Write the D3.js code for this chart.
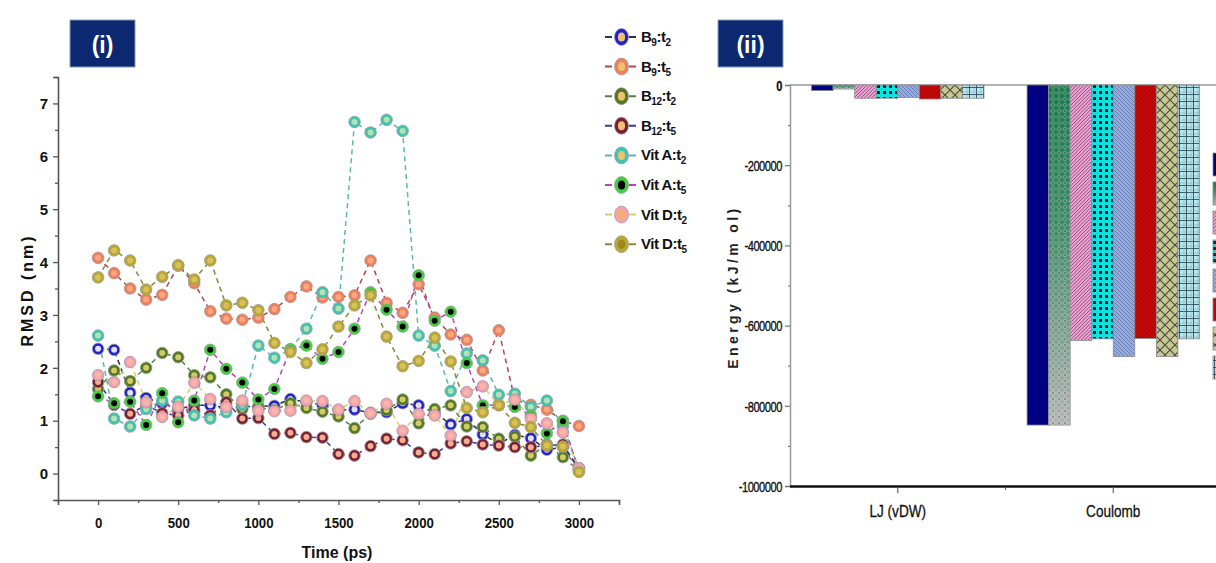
<!DOCTYPE html>
<html>
<head>
<meta charset="utf-8">
<script src="https://cdn.jsdelivr.net/npm/d3@7/dist/d3.min.js"></script>
<style>
  body { margin: 0; background: #fff; }
  svg { display: block; font-family: "Liberation Sans", Arial, sans-serif; }
</style>
</head>
<body>
<svg width="1216" height="563"></svg>
<script>
// ---- panel (i) data: RMSD (nm) vs time (ps)
const times = [0, 100, 200, 300, 400, 500, 600, 700, 800, 900, 1000, 1100, 1200, 1300, 1400, 1500,
  1600, 1700, 1800, 1900, 2000, 2100, 2200, 2300, 2400, 2500, 2600, 2700, 2800, 2900, 3000];
const b9t2 = [2.36, 2.34, 1.53, 1.43, 1.33, 1.22, 1.29, 1.29, 1.25, 1.27, 1.27, 1.28, 1.41, 1.35, 1.30, 1.20,
  1.21, 1.15, 1.16, 1.33, 1.29, 1.15, 0.93, 1.03, 0.74, 0.56, 0.73, 0.67, 0.45, 0.50, 0.10];
const b9t5 = [4.08, 3.79, 3.50, 3.29, 3.38, 3.93, 3.60, 3.07, 2.93, 2.91, 2.95, 3.11, 3.34, 3.54, 3.33, 3.34,
  3.37, 4.03, 3.23, 3.04, 3.58, 2.95, 2.63, 2.53, 1.95, 2.71, 1.40, 1.30, 1.21, 1.00, 0.90];
const b12t2 = [1.60, 1.95, 1.75, 2.00, 2.28, 2.20, 1.86, 1.82, 1.50, 1.22, 1.25, 1.20, 1.33, 1.24, 1.17, 1.08,
  0.86, 1.13, 1.20, 1.40, 0.95, 1.22, 1.29, 0.89, 0.88, 0.66, 0.70, 0.34, 0.55, 0.31, 0.05];
const b12t5 = [1.73, 1.30, 1.13, 1.30, 1.14, 1.10, 1.20, 1.10, 1.35, 1.04, 1.05, 0.75, 0.77, 0.69, 0.68, 0.37,
  0.34, 0.52, 0.66, 0.63, 0.40, 0.37, 0.57, 0.61, 0.55, 0.53, 0.50, 0.50, 0.53, 0.55, 0.10];
const vitAt2 = [2.61, 1.04, 0.89, 1.22, 1.38, 1.36, 1.10, 1.04, 1.16, 1.30, 2.42, 2.19, 2.35, 2.74, 3.43, 3.12,
  6.65, 6.45, 6.69, 6.48, 2.61, 2.42, 1.56, 2.27, 2.14, 1.49, 1.51, 1.26, 1.38, 0.90, 0.09];
const vitAt5 = [1.46, 1.33, 1.36, 0.92, 1.52, 0.97, 1.38, 2.34, 1.98, 1.72, 1.40, 1.60, 2.35, 2.42, 2.17, 2.30,
  2.74, 3.43, 3.10, 2.78, 3.75, 2.89, 3.06, 2.09, 1.29, 1.30, 1.26, 1.10, 0.76, 0.99, 0.05];
const vitDt2 = [1.86, 1.73, 2.11, 1.35, 1.07, 1.26, 1.72, 1.41, 1.26, 1.38, 1.19, 1.18, 1.19, 1.38, 1.37, 1.21,
  1.37, 1.14, 1.32, 0.81, 1.13, 1.10, 0.72, 1.54, 1.65, 1.30, 1.40, 1.04, 0.95, 0.78, 0.10];
const vitDt5 = [3.71, 4.22, 4.03, 3.48, 3.72, 3.94, 3.67, 4.03, 3.18, 3.23, 3.09, 2.47, 2.30, 2.09, 2.35, 2.78,
  3.18, 3.37, 2.59, 2.03, 2.13, 2.57, 2.12, 1.24, 1.16, 1.29, 0.96, 0.88, 0.53, 0.51, 0.03];

// legend labels: [base, sub1, mid, sub2]
const seriesLabels = [
  ['B', '9', ':t', '2'], ['B', '9', ':t', '5'], ['B', '12', ':t', '2'], ['B', '12', ':t', '5'],
  ['Vit A', '', ':t', '2'], ['Vit A', '', ':t', '5'], ['Vit D', '', ':t', '2'], ['Vit D', '', ':t', '5']
];
const seriesValues = [b9t2, b9t5, b12t2, b12t5, vitAt2, vitAt5, vitDt2, vitDt5];
const lineColors = ['#303040', '#b04848', '#5e7e48', '#3838a8', '#5cb8a8', '#b048b8', '#d0d070', '#88883a'];
const ringColors = ['#2222cc', '#f07e5e', '#4e7a22', '#7a1e34', '#3cc4b4', '#3ed03e', '#f4a0b0', '#b8a830'];
const coreColors = ['#e4e0f4', '#f8a880', '#d8c868', '#f0b090', '#b8e0b0', '#000000', '#f8b8a8', '#d8c060'];
const legendCore = ['#f0c070', '#f0c070', '#f0c070', '#f0c070', '#f0c070', '#000000', '#f0b070', '#9a8a20'];

// ---- panel (ii) data: energy (kJ/mol)
const energyCats = ['LJ (vDW)', 'Coulomb'];
const energyLJ = [-14000, -10000, -33000, -33000, -31000, -35000, -33000, -33000];
const energyCoul = [-848000, -848000, -637000, -633000, -677000, -632000, -677000, -633000];
const barFills = ['url(#p0)', 'url(#g1)', 'url(#p2)', 'url(#p3)', 'url(#p4)', 'url(#p5)', 'url(#p6)', 'url(#p7)'];
const energyTicks = [0, -200000, -400000, -600000, -800000, -1000000];

const svg = d3.select('svg');
const defs = svg.append('defs');

// ---------- patterns for the bars
const pat = (id, w, h, bg) => {
  const p = defs.append('pattern').attr('id', id).attr('patternUnits', 'userSpaceOnUse')
    .attr('width', w).attr('height', h);
  p.append('rect').attr('width', w).attr('height', h).attr('fill', bg);
  return p;
};
pat('p0', 4, 4, '#000080');
// green checker fading to gray
const grad = defs.append('linearGradient').attr('id', 'g1').attr('x1', 0).attr('y1', 0).attr('x2', 0).attr('y2', 1);
grad.append('stop').attr('offset', '0%').attr('stop-color', '#1a7a4e');
grad.append('stop').attr('offset', '40%').attr('stop-color', '#3d8a66');
grad.append('stop').attr('offset', '100%').attr('stop-color', '#b4b4b4');
const chk = defs.append('pattern').attr('id', 'chk').attr('patternUnits', 'userSpaceOnUse')
  .attr('width', 6).attr('height', 6);
chk.append('path').attr('d', 'M0,3 L3,0 L6,3 L3,6 Z').attr('fill', '#ffffff').attr('opacity', 0.22);
chk.append('circle').attr('cx', 3).attr('cy', 3).attr('r', 1).attr('fill', '#203a30').attr('opacity', 0.45);
let p2 = pat('p2', 7, 7, '#f0a0d4');
p2.append('path').attr('d', 'M-1,8 L8,-1 M-1,4.5 L4.5,-1 M2.5,8 L8,2.5').attr('stroke', '#8a5a7a').attr('stroke-width', 1);
let p3 = pat('p3', 6, 6, '#10e0e0');
p3.append('rect').attr('x', 1).attr('y', 1).attr('width', 3).attr('height', 3).attr('fill', '#0a2020');
let p4 = pat('p4', 4, 4, '#94acdc');
p4.append('path').attr('d', 'M-1,-1 L5,5 M-1,3 L1,5 M3,-1 L5,1').attr('stroke', '#5a6aa8').attr('stroke-width', 0.7);
let p5 = pat('p5', 5, 5, '#c00808');
p5.append('path').attr('d', 'M-1,6 L6,-1').attr('stroke', '#a80000').attr('stroke-width', 0.8);
let p6 = pat('p6', 10, 10, '#c8c894');
p6.append('path').attr('d', 'M0,0 L10,10 M10,0 L0,10').attr('stroke', '#4a4a3a').attr('stroke-width', 1.1);
let p7 = pat('p7', 7, 7, '#b8e8f0');
p7.append('path').attr('d', 'M0,3.5 H7 M3.5,0 V7').attr('stroke', '#2a4a5a').attr('stroke-width', 0.9);
p7.append('path').attr('d', 'M0,1 H7 M1,0 V7').attr('stroke', '#7aa0aa').attr('stroke-width', 0.5);

// ---------- panel labels
const panelTag = (x, txt) => {
  svg.append('rect').attr('x', x).attr('y', 20).attr('width', 65).attr('height', 47)
    .attr('fill', '#0b2870').attr('stroke', '#8a9ac0').attr('stroke-width', 1);
  svg.append('text').attr('x', x + 32.5).attr('y', 53).attr('text-anchor', 'middle')
    .attr('fill', '#fff').attr('font-size', 23).attr('font-weight', 'bold').text(txt);
};
panelTag(70, '(i)');
panelTag(718, '(ii)');

// ================= panel (i)
const x = d3.scaleLinear().domain([-250, 3250]).range([58, 619]);
const y = d3.scaleLinear().domain([-0.5, 7.5]).range([500, 77]);

const g1 = svg.append('g');

const xAxis = d3.axisBottom(x).tickValues(d3.range(-250, 3251, 250)).tickSize(5)
  .tickFormat(d => (d >= 0 && d % 500 === 0) ? d : '');
const xAxisG = g1.append('g').attr('transform', 'translate(0,500)').call(xAxis);
xAxisG.select('.domain').attr('stroke', '#555').attr('stroke-width', 1.6);
xAxisG.selectAll('.tick line').attr('stroke', '#555').attr('stroke-width', 1.3)
  .attr('y2', d => d % 500 === 0 ? 5 : 3);
xAxisG.selectAll('.tick text').attr('font-size', 15).attr('font-weight', 'bold').attr('fill', '#111')
  .attr('font-family', '"Liberation Sans", Arial, sans-serif')
  .attr('transform', 'scale(0.88,1)').attr('x', 0).attr('dy', '0').attr('y', 28);

const yAxis = d3.axisLeft(y).tickValues(d3.range(-0.5, 7.51, 0.5)).tickSize(5)
  .tickFormat(d => (d >= 0 && d % 1 === 0) ? d : '');
const yAxisG = g1.append('g').attr('transform', 'translate(58,0)').call(yAxis);
yAxisG.select('.domain').attr('stroke', '#555').attr('stroke-width', 1.6);
yAxisG.selectAll('.tick line').attr('stroke', '#555').attr('stroke-width', 1.3)
  .attr('x2', d => d % 1 === 0 ? -5 : -3);
yAxisG.selectAll('.tick text').attr('font-size', 15).attr('font-weight', 'bold').attr('fill', '#111')
  .attr('font-family', '"Liberation Sans", Arial, sans-serif').attr('x', -10).attr('dy', '0.35em');

g1.append('text').attr('transform', 'translate(33,290) rotate(-90)').attr('text-anchor', 'middle')
  .attr('font-size', 16).attr('font-weight', 'bold').attr('letter-spacing', 3).attr('fill', '#111')
  .text('RMSD (nm)');
g1.append('text').attr('x', 337).attr('y', 558).attr('text-anchor', 'middle')
  .attr('font-size', 16).attr('font-weight', 'bold').attr('fill', '#111').text('Time (ps)');

const line = d3.line().x((d, i) => x(times[i])).y(d => y(d));
const drawOrder = [0, 1, 2, 3, 4, 5, 6, 7];
drawOrder.forEach(s => {
  g1.append('path').datum(seriesValues[s]).attr('d', line).attr('fill', 'none')
    .attr('stroke', lineColors[s]).attr('stroke-width', 1.5).attr('stroke-dasharray', '5,4');
});
drawOrder.forEach(s => {
  const mg = g1.append('g');
  mg.selectAll('circle.o').data(seriesValues[s]).join('circle').attr('class', 'o')
    .attr('cx', (d, i) => x(times[i])).attr('cy', d => y(d)).attr('r', 5.8)
    .attr('fill', ringColors[s]).attr('stroke', '#9a9a9a').attr('stroke-width', 0.8);
  mg.selectAll('circle.c').data(seriesValues[s]).join('circle').attr('class', 'c')
    .attr('cx', (d, i) => x(times[i])).attr('cy', d => y(d)).attr('r', 3)
    .attr('fill', coreColors[s]);
});

// legend
const leg = svg.append('g');
seriesLabels.forEach((lab, s) => {
  const ly = 37 + s * 29.6;
  leg.append('line').attr('x1', 603).attr('x2', 640).attr('y1', ly).attr('y2', ly)
    .attr('stroke', lineColors[s]).attr('stroke-width', 2).attr('stroke-dasharray', '7,5')
    .attr('stroke-dashoffset', -2);
  leg.append('ellipse').attr('cx', 621.5).attr('cy', ly).attr('rx', 7).attr('ry', 8.5)
    .attr('fill', ringColors[s]).attr('stroke', '#999').attr('stroke-width', 0.7);
  leg.append('ellipse').attr('cx', 621.5).attr('cy', ly).attr('rx', 3.6).attr('ry', 4.5)
    .attr('fill', legendCore[s]);
  const t = leg.append('text').attr('x', 641).attr('y', ly + 5).attr('font-size', 15)
    .attr('font-weight', 'bold').attr('fill', '#111').attr('letter-spacing', -0.5);
  t.append('tspan').text(lab[0]);
  if (lab[1]) t.append('tspan').attr('font-size', 10).attr('dy', 4).text(lab[1]);
  t.append('tspan').attr('dy', lab[1] ? -4 : 0).text(lab[2]);
  t.append('tspan').attr('font-size', 10).attr('dy', 4).text(lab[3]);
});

// ================= panel (ii)
const xb = d3.scaleBand().domain(energyCats).range([790, 1221]);
const xs = d3.scaleBand().domain(d3.range(8)).range([0, xb.bandwidth() * 0.8]);
const yb = d3.scaleLinear().domain([-1000000, 0]).range([486, 85]);

const g2 = svg.append('g');
// top zero line
g2.append('line').attr('x1', 790).attr('x2', 1216).attr('y1', yb(0)).attr('y2', yb(0))
  .attr('stroke', '#999').attr('stroke-width', 1.5);

const groups = [energyLJ, energyCoul];
groups.forEach((vals, gi) => {
  const x0 = xb(energyCats[gi]) + xb.bandwidth() * 0.1;
  g2.append('g').selectAll('rect').data(vals).join('rect')
    .attr('x', (d, i) => x0 + xs(i)).attr('width', xs.bandwidth())
    .attr('y', yb(0)).attr('height', d => yb(d) - yb(0))
    .attr('fill', (d, i) => barFills[i]).attr('stroke', '#8a8a8a').attr('stroke-width', 0.8);
  // checker overlay on the green gradient bar
  g2.append('rect').attr('x', x0 + xs(1)).attr('width', xs.bandwidth())
    .attr('y', yb(0)).attr('height', yb(vals[1]) - yb(0)).attr('fill', 'url(#chk)');
});

const yAxisB = d3.axisLeft(yb).tickValues(d3.range(-1000000, 1, 100000)).tickSize(5)
  .tickFormat(d => energyTicks.includes(d) ? d : '');
const ybG = g2.append('g').attr('transform', 'translate(790,0)').call(yAxisB);
ybG.select('.domain').attr('stroke', '#999').attr('stroke-width', 1.5);
ybG.selectAll('.tick line').attr('stroke', '#777').attr('stroke-width', 1.2)
  .attr('x2', d => energyTicks.includes(d) ? -5 : -2);
ybG.selectAll('.tick text').attr('font-size', 15).attr('fill', '#111')
  .attr('font-family', '"Liberation Sans", Arial, sans-serif')
  .attr('transform', 'scale(0.74,1)').attr('x', -8 / 0.74).attr('dy', '0.35em')
  .attr('letter-spacing', -0.6).attr('stroke', '#111').attr('stroke-width', 0.35)
  .attr('font-weight', d => d === 0 ? 'bold' : 'normal');

// bottom axis
g2.append('line').attr('x1', 790).attr('x2', 1216).attr('y1', 486.5).attr('y2', 486.5)
  .attr('stroke', '#111').attr('stroke-width', 2.6);
const xTickPos = [xb('LJ (vDW)') + xb.bandwidth() / 2, xb('Coulomb'), xb('Coulomb') + xb.bandwidth() / 2];
g2.selectAll('line.xt').data(xTickPos).join('line').attr('class', 'xt')
  .attr('x1', d => d).attr('x2', d => d).attr('y1', 487).attr('y2', d => d === xb('Coulomb') ? 490 : 493)
  .attr('stroke', '#666').attr('stroke-width', 1.2);
energyCats.forEach(c => {
  g2.append('text').attr('transform', `translate(${xb(c) + xb.bandwidth() / 2},517) scale(0.8,1)`)
    .attr('text-anchor', 'middle').attr('font-size', 17).attr('fill', '#111')
    .attr('stroke', '#111').attr('stroke-width', 0.3).text(c);
});

g2.append('text').attr('transform', 'translate(738,287) rotate(-90)').attr('text-anchor', 'middle')
  .attr('font-size', 14).attr('font-weight', 'bold').attr('letter-spacing', 3.4).attr('fill', '#222')
  .text('Energy (kJ/m ol)');

// clipped legend swatches at right edge
g2.selectAll('rect.lg').data(barFills).join('rect').attr('class', 'lg')
  .attr('x', 1213).attr('y', (d, i) => 153 + i * 29).attr('width', 14).attr('height', 23)
  .attr('fill', d => d).attr('stroke', '#888').attr('stroke-width', 0.8);
</script>
</body>
</html>
